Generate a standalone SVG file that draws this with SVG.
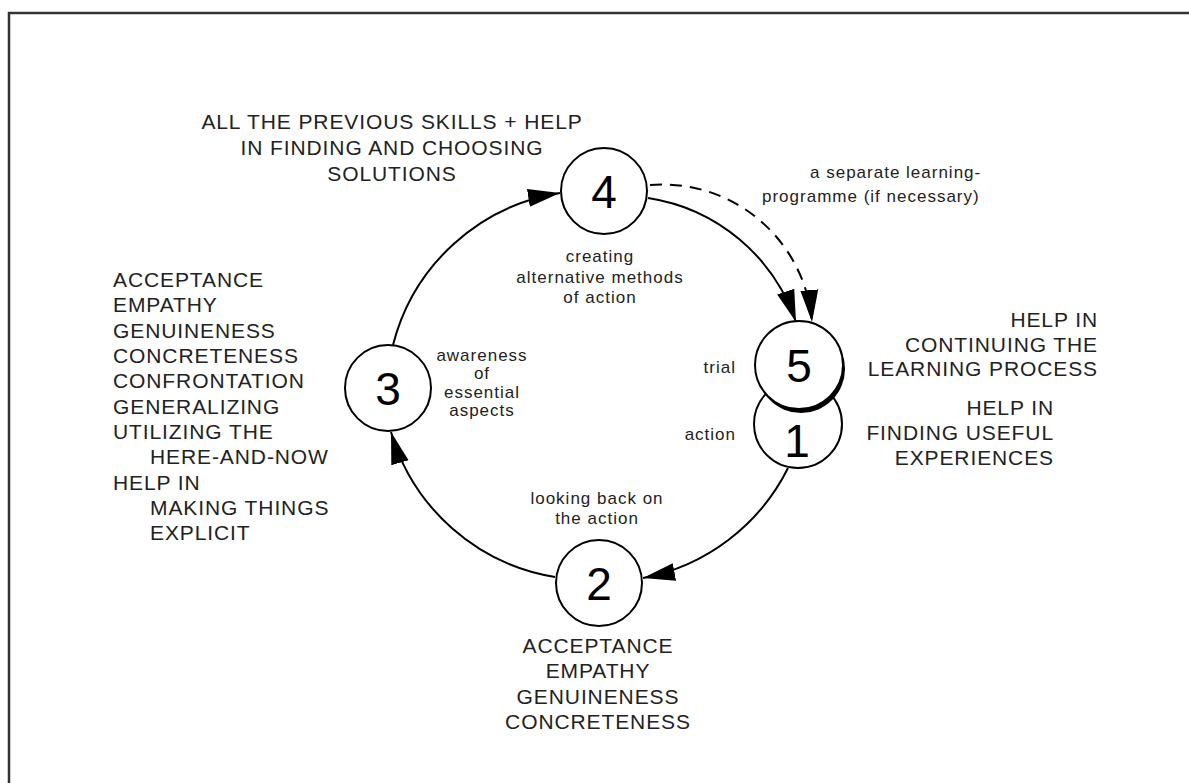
<svg xmlns="http://www.w3.org/2000/svg" width="1189" height="783" viewBox="0 0 1189 783">
<style>
.frame{fill:none;stroke:#333;stroke-width:2.5}
.node{fill:#fff;stroke:#000;stroke-width:2}
.num{font-family:"Liberation Sans",Arial,sans-serif;font-size:46px;fill:#000;text-anchor:middle}
.cap{font-family:"Liberation Sans",Arial,sans-serif;font-size:21px;letter-spacing:0.9px;fill:#222}
.sm{font-family:"Liberation Sans",Arial,sans-serif;font-size:17px;letter-spacing:1px;fill:#222}
.mid{text-anchor:middle}
.end{text-anchor:end}
.arc{fill:none;stroke:#000;stroke-width:2}
.dash{stroke-dasharray:12 8}
</style>
<defs>
<marker id="ah" markerUnits="userSpaceOnUse" markerWidth="34" markerHeight="22" viewBox="0 0 34 22" refX="32" refY="11" orient="auto">
<path d="M0,2 L32,11 L0,20 Z" fill="#000"/>
</marker>
</defs>
<rect width="1189" height="783" fill="#fff"/>
<rect class="frame" x="9" y="13" width="1200" height="800"/>

<g id="connectors">
<path class="arc" d="M393,345 A205,205 0 0 1 560,193" marker-end="url(#ah)"/>
<path class="arc" d="M648,198 A186,186 0 0 1 796,322" marker-end="url(#ah)"/>
<path class="arc dash" d="M650,185 A150,150 0 0 1 812,322" marker-end="url(#ah)"/>
<path class="arc" d="M788,468 A205,205 0 0 1 643,578" marker-end="url(#ah)"/>
<path class="arc" d="M555,577 A205,205 0 0 1 391,432" marker-end="url(#ah)"/>
</g>

<g id="node1">
<circle class="node" cx="798" cy="424" r="44"/>
<text class="num" x="797" y="457">1</text>
</g>
<g id="node5">
<circle cx="801" cy="369" r="44" fill="#000"/>
<circle class="node" cx="799" cy="365" r="44"/>
<text class="num" x="799" y="382">5</text>
</g>
<g id="node4">
<circle class="node" cx="604" cy="191" r="43"/>
<text class="num" x="604" y="208">4</text>
</g>
<g id="node2">
<circle class="node" cx="599" cy="583" r="43"/>
<text class="num" x="599" y="600">2</text>
</g>
<g id="node3">
<circle class="node" cx="388" cy="388" r="43"/>
<text class="num" x="388" y="405">3</text>
</g>

<g id="labels">
<text class="cap mid"><tspan x="392" y="129">ALL THE PREVIOUS SKILLS + HELP</tspan><tspan x="392" y="155">IN FINDING AND CHOOSING</tspan><tspan x="392" y="181">SOLUTIONS</tspan></text>

<text class="cap"><tspan x="113" y="287">ACCEPTANCE</tspan><tspan x="113" y="312">EMPATHY</tspan><tspan x="113" y="338">GENUINENESS</tspan><tspan x="113" y="363">CONCRETENESS</tspan><tspan x="113" y="388">CONFRONTATION</tspan><tspan x="113" y="414">GENERALIZING</tspan><tspan x="113" y="439">UTILIZING THE</tspan><tspan x="150" y="464">HERE-AND-NOW</tspan><tspan x="113" y="490">HELP IN</tspan><tspan x="150" y="515">MAKING THINGS</tspan><tspan x="150" y="540">EXPLICIT</tspan></text>

<text class="cap end"><tspan x="1098" y="327">HELP IN</tspan><tspan x="1098" y="352">CONTINUING THE</tspan><tspan x="1098" y="376">LEARNING PROCESS</tspan></text>

<text class="cap end"><tspan x="1054" y="415">HELP IN</tspan><tspan x="1054" y="440">FINDING USEFUL</tspan><tspan x="1054" y="465">EXPERIENCES</tspan></text>

<text class="cap mid"><tspan x="598" y="653">ACCEPTANCE</tspan><tspan x="598" y="678">EMPATHY</tspan><tspan x="598" y="704">GENUINENESS</tspan><tspan x="598" y="729">CONCRETENESS</tspan></text>

<text class="sm"><tspan x="810" y="178">a separate learning-</tspan><tspan x="762" y="202">programme (if necessary)</tspan></text>
<text class="sm mid"><tspan x="600" y="262">creating</tspan><tspan x="600" y="283">alternative methods</tspan><tspan x="600" y="303">of action</tspan></text>
<text class="sm mid"><tspan x="482" y="361">awareness</tspan><tspan x="482" y="379">of</tspan><tspan x="482" y="398">essential</tspan><tspan x="482" y="416">aspects</tspan></text>
<text class="sm end"><tspan x="736" y="373">trial</tspan></text>
<text class="sm end"><tspan x="736" y="440">action</tspan></text>
<text class="sm mid"><tspan x="597" y="504">looking back on</tspan><tspan x="597" y="524">the action</tspan></text>
</g>
</svg>
